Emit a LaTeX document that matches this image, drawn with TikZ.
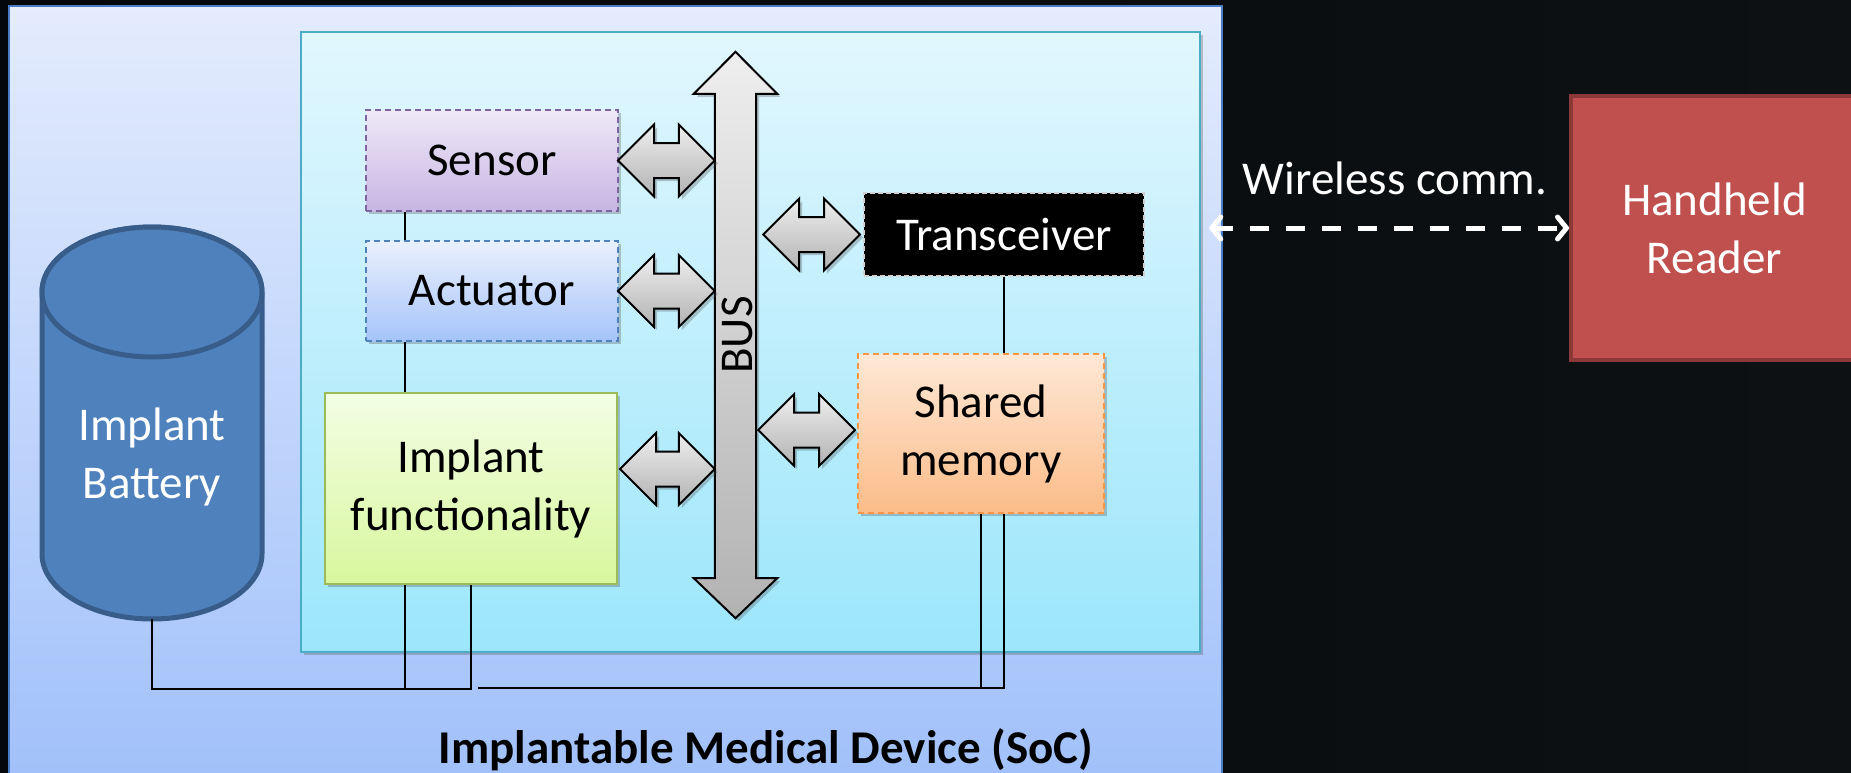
\documentclass[tikz,border=0pt]{standalone}
\usepackage{fontspec}
\setmainfont{Carlito}
\usetikzlibrary{arrows.meta,shadows,calc}
\definecolor{bgA}{RGB}{4,8,12}
\definecolor{bgB}{RGB}{13,17,19}
\definecolor{outTop}{RGB}{228,236,253}
\definecolor{outBot}{RGB}{160,192,250}
\definecolor{outLine}{RGB}{74,124,196}
\definecolor{inTop}{RGB}{226,247,254}
\definecolor{inBot}{RGB}{156,230,251}
\definecolor{inLine}{RGB}{75,172,198}
\definecolor{batFill}{RGB}{79,129,189}
\definecolor{batLine}{RGB}{56,93,138}
\definecolor{senTop}{RGB}{238,232,247}
\definecolor{senBot}{RGB}{200,182,227}
\definecolor{senLine}{RGB}{128,100,162}
\definecolor{actTop}{RGB}{234,240,253}
\definecolor{actBot}{RGB}{166,196,250}
\definecolor{actLine}{RGB}{79,129,189}
\definecolor{funTop}{RGB}{243,254,228}
\definecolor{funBot}{RGB}{216,247,158}
\definecolor{funLine}{RGB}{155,187,89}
\definecolor{memTop}{RGB}{254,232,214}
\definecolor{memBot}{RGB}{251,188,136}
\definecolor{memLine}{RGB}{247,150,70}
\definecolor{hhFill}{RGB}{192,80,77}
\definecolor{hhLine}{RGB}{140,56,54}
\definecolor{arrTop}{RGB}{238,238,238}
\definecolor{arrBot}{RGB}{178,178,178}
\tikzset{
  boxshadow/.style={drop shadow={shadow xshift=3pt, shadow yshift=-3pt, opacity=0.3, fill=black!70}},
  blk/.style={rectangle, inner sep=0pt, align=center, text=black, line width=2pt},
  dsh/.style={dash pattern=on 6pt off 4pt},
  wire/.style={draw=black, line width=2pt},
  blockarr/.style={draw=black, line width=2pt, line join=miter, top color=arrTop, bottom color=arrBot, boxshadow},
}
\newcommand{\dblarr}[2]{%
  \path[blockarr] (#1) -- ([shift={(36pt,36pt)}]#1) -- ([shift={(36pt,17.5pt)}]#1)
   -- ([shift={(-36pt,17.5pt)}]#2) -- ([shift={(-36pt,36pt)}]#2) -- (#2)
   -- ([shift={(-36pt,-36pt)}]#2) -- ([shift={(-36pt,-17.5pt)}]#2)
   -- ([shift={(36pt,-17.5pt)}]#1) -- ([shift={(36pt,-36pt)}]#1) -- cycle;}
\begin{document}
\begin{tikzpicture}[x=1pt, y=-1pt, font=\fontsize{47}{58}\selectfont]
\useasboundingbox (0,0) rectangle (1851,772);
\clip (0,0) rectangle (1851,772);
\fill[left color=bgA, right color=bgB] (0,0) rectangle (1851,772);

% outer IMD box
\node[rectangle, inner sep=0pt, minimum width=1213pt, minimum height=784pt,
      draw=outLine, line width=2.5pt, top color=outTop, bottom color=outBot] (imd) at (615.5,398) {};
% inner SoC box
\node[rectangle, inner sep=0pt, minimum width=899pt, minimum height=620pt,
      draw=inLine, line width=2.5pt, top color=inTop, bottom color=inBot, boxshadow] (soc) at (750.5,342) {};

% battery
\node[rectangle, inner sep=0pt, minimum width=220pt, minimum height=392pt] (bat) at (152,423) {};
\path[fill=batFill, draw=batLine, line width=5pt]
  (42,554) arc[start angle=180, end angle=360, x radius=110pt, y radius=65pt]
  -- (262,292) arc[start angle=0, end angle=180, x radius=110pt, y radius=65pt] -- cycle;
\path[fill=batFill, draw=batLine, line width=5pt] (152,292) ellipse[x radius=110pt, y radius=65pt];
\node[text=white, align=center] (battxt) at (152,457) {Implant\\Battery};

% blocks
\node[blk, minimum width=252pt, minimum height=101pt, draw=senLine, dsh, top color=senTop, bottom color=senBot, boxshadow] (sensor) at (492,160.5) {Sensor};
\node[blk, minimum width=252pt, minimum height=100pt, draw=actLine, dsh, top color=actTop, bottom color=actBot, boxshadow] (actuator) at (492,291) {Actuator};
\node[blk, minimum width=292pt, minimum height=191pt, draw=funLine, top color=funTop, bottom color=funBot, boxshadow] (func) at (471,488.5) {Implant\\functionality};
\node[blk, minimum width=280pt, minimum height=83pt, draw=black!18, fill=black, text=white, dash pattern=on 5pt off 3pt] (trx) at (1004,234.5) {Transceiver};
\node[blk, minimum width=246pt, minimum height=159pt, draw=memLine, dsh, top color=memTop, bottom color=memBot, boxshadow] (mem) at (981,433.5) {Shared\\memory};

% BUS
\node[rectangle, inner sep=0pt, minimum width=41pt, minimum height=484pt] (bus) at (735.5,336) {};
\path[draw=black, line width=2pt, line join=miter, top color=arrTop, bottom color=arrBot, boxshadow]
  (bus.north west) -- ([xshift=-21pt]bus.north west) -- ([yshift=42pt]bus.north)
  -- ([xshift=21pt]bus.north east) -- (bus.north east) -- (bus.south east)
  -- ([xshift=21pt]bus.south east) -- ([yshift=-40pt]bus.south)
  -- ([xshift=-21pt]bus.south west) -- (bus.south west) -- cycle;
\node[rotate=90] (bustxt) at (737,335) {BUS};

% block arrows to the bus
\coordinate (s1) at ([xshift=-1pt]sensor.east);
\coordinate (s2) at (bus.west |- sensor.east);
\dblarr{s1}{s2}
\coordinate (a1) at ([xshift=-1pt]actuator.east);
\coordinate (a2) at (bus.west |- actuator.east);
\dblarr{a1}{a2}
\coordinate (f1) at ([xshift=2pt, yshift=19.5pt]func.east);
\coordinate (f2) at (bus.west |- f1);
\dblarr{f1}{f2}
\coordinate (t0) at (bus.east |- trx.west);
\coordinate (t1) at ([xshift=7pt]t0);
\coordinate (t2) at ([xshift=-3pt]trx.west);
\dblarr{t1}{t2}
\coordinate (m0) at (bus.east |- mem.west);
\coordinate (m1) at ([xshift=2pt, yshift=3.5pt]m0);
\coordinate (m2) at ([xshift=-2pt, yshift=3.5pt]mem.west);
\dblarr{m1}{m2}

% wires
\draw[wire] ([xshift=-87pt]sensor.south) -- ([xshift=-87pt]actuator.north);
\draw[wire] ([xshift=-87pt]actuator.south) -- ([xshift=-66pt]func.north);
\coordinate (gl) at (471,689);
\draw[wire] (bat.south) |- (gl) -- (func.south);
\draw[wire] ([xshift=-66pt]func.south) -- ++(0,105);
\coordinate (gr) at (478,688);
\draw[wire] (gr) -| ([xshift=23pt]mem.south);
\draw[wire] (mem.south) -- ++(0,175);
\draw[wire] (trx.south) -- (trx.south |- mem.north);

% handheld reader
\node[rectangle, inner sep=0pt, minimum width=287pt, minimum height=264pt, fill=hhFill, draw=hhLine, line width=4pt, text=white, align=center] (hh) at (1714.5,228) {Handheld\\Reader};
\node[text=white] (wc) at (1395,178) {Wireless comm.};
\coordinate (w0) at (imd.east |- hh.west);
\draw[white, line width=5pt, dash pattern=on 19pt off 17pt,
      {Straight Barb[round, length=9pt, width=22pt]}-{Straight Barb[round, length=9pt, width=22pt]}]
  ([xshift=-14pt]w0) -- (hh.west);

% title
\node[anchor=base, font=\bfseries\fontsize{47}{58}\selectfont] (title) at (766,763) {Implantable Medical Device (SoC)};
\end{tikzpicture}
\end{document}
